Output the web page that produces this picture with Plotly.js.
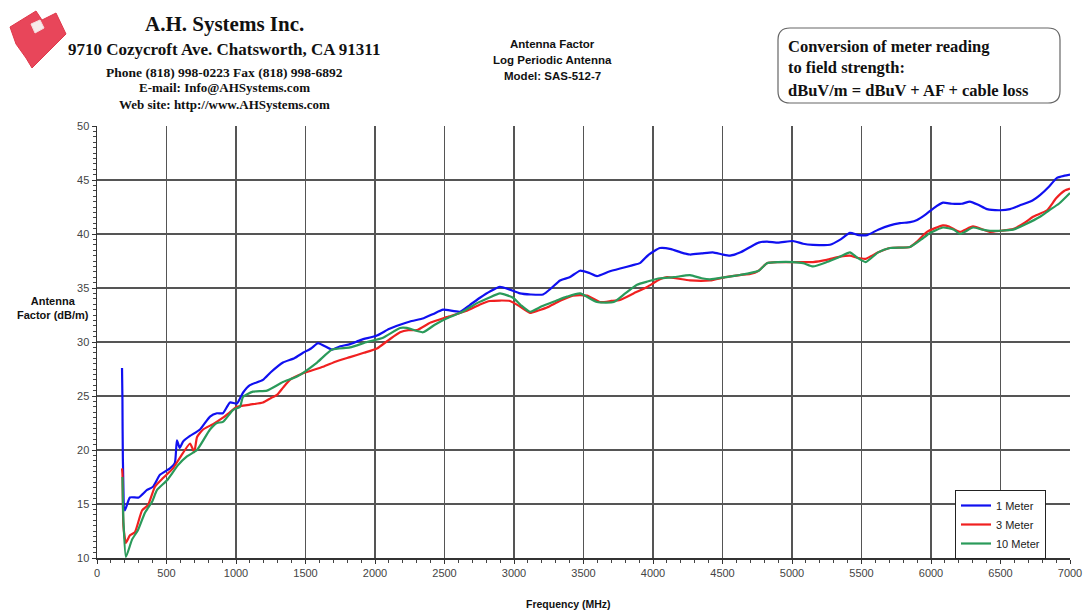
<!DOCTYPE html>
<html>
<head>
<meta charset="utf-8">
<script src="https://cdn.plot.ly/plotly-3.0.1.min.js"></script>
<style>
html,body{margin:0;padding:0;background:#fff;}
#chart{width:1084px;height:613px;}
</style>
</head>
<body>
<div id="chart"></div>
<script>
// ---- Data ----
const seriesNames = ["1 Meter", "3 Meter", "10 Meter"];

const freq1m = [180,183,186,200,237,300,360,403,453,525,560,575,595,620,669,741,813,863,906,957,1007,1050,1100,1194,1250,1338,1420,1482,1540,1590,1640,1691,1750,1820,1900,2014,2100,2180,2252,2350,2420,2490,2612,2680,2755,2830,2899,2960,3043,3120,3209,3270,3331,3400,3475,3540,3597,3680,3763,3850,3906,3970,4050,4130,4200,4266,4350,4430,4500,4554,4630,4700,4760,4820,4900,5007,5080,5151,5273,5350,5417,5480,5540,5620,5705,5777,5850,5900,5960,6020,6086,6150,6220,6280,6340,6403,6500,6568,6650,6730,6784,6850,6906,6960,7000];
const af1m = [27.6,24.6,19.3,14.4,15.6,15.6,16.3,16.6,17.7,18.3,18.8,20.9,20.2,20.8,21.3,21.9,23.1,23.4,23.4,24.4,24.3,25.3,26.0,26.5,27.2,28.1,28.5,29.0,29.4,29.9,29.6,29.3,29.6,29.8,30.2,30.6,31.2,31.6,31.9,32.2,32.6,33.0,32.8,33.4,34.1,34.7,35.1,34.9,34.5,34.4,34.4,35.0,35.7,36.0,36.6,36.4,36.1,36.5,36.8,37.1,37.3,38.1,38.7,38.6,38.3,38.1,38.2,38.3,38.1,38.0,38.3,38.8,39.2,39.3,39.2,39.35,39.1,39.0,39.0,39.5,40.1,39.9,39.9,40.4,40.8,41.0,41.1,41.3,41.8,42.4,42.9,42.8,42.8,43.0,42.7,42.3,42.2,42.3,42.7,43.1,43.6,44.4,45.2,45.4,45.5];

const freq3m = [180,183,190,208,237,273,324,367,417,475,547,597,669,685,700,720,763,835,906,957,1007,1100,1194,1250,1295,1340,1388,1482,1626,1720,1820,1920,2014,2100,2180,2240,2302,2400,2516,2661,2760,2827,2971,3040,3115,3170,3237,3330,3424,3525,3619,3700,3763,3860,3957,4050,4101,4266,4410,4520,4625,4700,4760,4820,4900,5007,5151,5250,5345,5417,5470,5530,5620,5705,5849,5900,5971,6086,6130,6208,6302,6424,6500,6590,6680,6734,6835,6900,6960,7000];
const af3m = [18.3,17.8,13.0,11.4,12.1,12.4,14.4,14.9,16.6,17.4,18.3,19.3,20.6,20.2,19.8,21.2,21.9,22.4,23.0,23.5,24.0,24.2,24.4,24.8,25.1,25.8,26.5,27.1,27.7,28.2,28.6,29.0,29.4,30.2,30.9,31.1,31.1,31.8,32.3,32.9,33.5,33.8,33.8,33.3,32.7,32.9,33.2,33.8,34.3,34.3,33.7,33.8,33.9,34.5,35.1,35.8,36.0,35.7,35.7,36.0,36.2,36.3,36.6,37.3,37.4,37.4,37.4,37.6,37.9,38.0,37.8,37.7,38.3,38.7,38.8,39.3,40.2,40.8,40.7,40.2,40.7,40.2,40.3,40.45,41.1,41.6,42.2,43.3,44.0,44.2];

const freq10m = [183,190,208,252,295,345,396,432,504,583,647,719,813,863,906,978,1029,1050,1122,1223,1338,1439,1583,1691,1820,1942,2058,2180,2230,2345,2430,2518,2630,2734,2820,2899,2993,3050,3115,3200,3300,3381,3475,3597,3717,3800,3885,3960,4050,4150,4266,4350,4410,4520,4625,4760,4820,4900,5007,5080,5151,5250,5345,5417,5470,5530,5620,5705,5849,5930,5993,6086,6165,6208,6302,6370,6424,6500,6590,6680,6784,6850,6920,7000];
const af10m = [17.5,13.5,10.1,11.7,12.6,14.2,15.2,16.3,17.2,18.6,19.4,20.0,21.9,22.5,22.6,23.7,24.0,24.9,25.4,25.5,26.3,26.8,28.1,29.3,29.5,30.0,30.4,31.3,31.3,30.9,31.6,32.2,32.8,33.6,34.1,34.5,34.1,33.4,32.8,33.3,33.8,34.2,34.5,33.7,33.7,34.5,35.3,35.6,35.9,36.0,36.2,35.9,35.8,36.0,36.2,36.6,37.3,37.4,37.4,37.3,37.0,37.4,37.9,38.3,37.8,37.4,38.3,38.7,38.8,39.5,40.1,40.6,40.4,40.0,40.6,40.4,40.3,40.3,40.4,40.9,41.6,42.2,42.8,43.8];

const xTickVals = [0,500,1000,1500,2000,2500,3000,3500,4000,4500,5000,5500,6000,6500,7000];
const yTickVals = [10,15,20,25,30,35,40,45,50];

const headerLines = ["A.H. Systems Inc.", "9710 Cozycroft Ave. Chatsworth, CA 91311", "Phone (818) 998-0223 Fax (818) 998-6892", "E-mail: Info@AHSystems.com", "Web site: http://www.AHSystems.com"];
const titleLines = ["Antenna Factor", "Log Periodic Antenna", "Model: SAS-512-7"];
const boxLines = ["Conversion of meter reading", "to field strength:", "dBuV/m = dBuV + AF + cable loss"];

// ---- Geometry helpers (pixel -> paper) ----
const W = 1084, H = 613;
const M = {l: 97, r: 14, t: 126, b: 55};
const PW = W - M.l - M.r, PH = H - M.t - M.b;
const px = x => (x - M.l) / PW;
const py = y => (H - M.b - y) / PH;

const colors = ["#1010f0", "#f02020", "#2a9a5a"];
const xs = [freq1m, freq3m, freq10m];
const ys = [af1m, af3m, af10m];

const traces = seriesNames.map((n, i) => ({
  x: xs[i], y: ys[i], name: n, type: "scatter", mode: "lines",
  line: {color: colors[i], width: 2.2, shape: "spline", smoothing: 0.5}
}));

const serif = "Liberation Serif, Times New Roman, serif";
const sans = "Liberation Sans, Arial, sans-serif";

const annotations = [];
const hdrY = [24, 49, 72, 88, 104];
const hdrSize = [21, 17, 13.5, 13, 13];
headerLines.forEach((t, i) => annotations.push({
  text: "<b>" + t + "</b>", xref: "paper", yref: "paper", x: px(224), y: py(hdrY[i]),
  xanchor: "center", yanchor: "middle", showarrow: false,
  font: {family: serif, size: hdrSize[i], color: "#111"}
}));
const tY = [44, 60, 76];
titleLines.forEach((t, i) => annotations.push({
  text: "<b>" + t + "</b>", xref: "paper", yref: "paper", x: px(552), y: py(tY[i]),
  xanchor: "center", yanchor: "middle", showarrow: false,
  font: {family: sans, size: 11.5, color: "#111"}
}));
const bY = [46, 68, 90];
boxLines.forEach((t, i) => annotations.push({
  text: "<b>" + t + "</b>", xref: "paper", yref: "paper", x: px(786), y: py(bY[i]),
  xanchor: "left", yanchor: "middle", showarrow: false,
  font: {family: serif, size: 16.5, color: "#111"}
}));
annotations.push({
  text: "<b>Antenna<br>Factor (dB/m)</b>", xref: "paper", yref: "paper", x: px(53), y: py(308),
  xanchor: "center", yanchor: "middle", showarrow: false, align: "center",
  font: {family: sans, size: 11, color: "#111"}
});
annotations.push({
  text: "<b>Frequency (MHz)</b>", xref: "paper", yref: "paper", x: px(568), y: py(604),
  xanchor: "center", yanchor: "middle", showarrow: false,
  font: {family: sans, size: 10.5, color: "#111"}
});

// Rounded box path in paper coords
function roundRect(x0, y0, x1, y1, r) {
  const X = v => px(v), Y = v => py(v);
  return `M ${X(x0 + r)} ${Y(y0)} L ${X(x1 - r)} ${Y(y0)} Q ${X(x1)} ${Y(y0)} ${X(x1)} ${Y(y0 + r)} ` +
    `L ${X(x1)} ${Y(y1 - r)} Q ${X(x1)} ${Y(y1)} ${X(x1 - r)} ${Y(y1)} L ${X(x0 + r)} ${Y(y1)} ` +
    `Q ${X(x0)} ${Y(y1)} ${X(x0)} ${Y(y1 - r)} L ${X(x0)} ${Y(y0 + r)} Q ${X(x0)} ${Y(y0)} ${X(x0 + r)} ${Y(y0)} Z`;
}
function poly(pts) {
  return "M " + pts.map(p => px(p[0]) + " " + py(p[1])).join(" L ") + " Z";
}

const shapes = [
  {type: "path", xref: "paper", yref: "paper", path: roundRect(778, 28, 1060, 103, 12),
   line: {color: "#666", width: 1.2}, fillcolor: "rgba(0,0,0,0)"},
  // logo
  {type: "path", xref: "paper", yref: "paper",
   path: poly([[10,27],[36,11],[42,20],[56,13],[66,34],[32,68],[26,58],[16,44]]),
   line: {color: "#e0384a", width: 1}, fillcolor: "#e8465a"},
  {type: "path", xref: "paper", yref: "paper",
   path: poly([[31,24],[40,20],[44,28],[35,33]]),
   line: {color: "#f4dede", width: 1}, fillcolor: "#f7eaea"}
];

const layout = {
  width: W, height: H,
  margin: M,
  paper_bgcolor: "#fff", plot_bgcolor: "#fff",
  showlegend: true,
  legend: {x: px(955), y: py(490), xanchor: "left", yanchor: "top",
    bgcolor: "#fff", bordercolor: "#222", borderwidth: 1,
    font: {family: sans, size: 11, color: "#222"}, tracegroupgap: 0, itemwidth: 30},
  xaxis: {range: [0, 7000], tickvals: xTickVals, ticktext: xTickVals.map(String),
    showgrid: true, gridcolor: "#555", gridwidth: 1.5,
    showline: true, linecolor: "#333", linewidth: 1.5,
    ticks: "outside", ticklen: 4, tickcolor: "#333",
    minor: {dtick: 100, ticks: "outside", ticklen: 3, tickcolor: "#444", showgrid: false},
    zeroline: false, tickfont: {family: sans, size: 11, color: "#444"}},
  yaxis: {range: [10, 50], tickvals: yTickVals, ticktext: yTickVals.map(String),
    showgrid: true, gridcolor: "#555", gridwidth: 1.5,
    showline: true, linecolor: "#333", linewidth: 1.5,
    ticks: "outside", ticklen: 4, tickcolor: "#333",
    minor: {dtick: 0.5, ticks: "outside", ticklen: 3, tickcolor: "#444", showgrid: false},
    zeroline: false, tickfont: {family: sans, size: 11, color: "#444"}},
  annotations: annotations,
  shapes: shapes
};

Plotly.newPlot("chart", traces, layout, {displayModeBar: false, staticPlot: true});
</script>
</body>
</html>
